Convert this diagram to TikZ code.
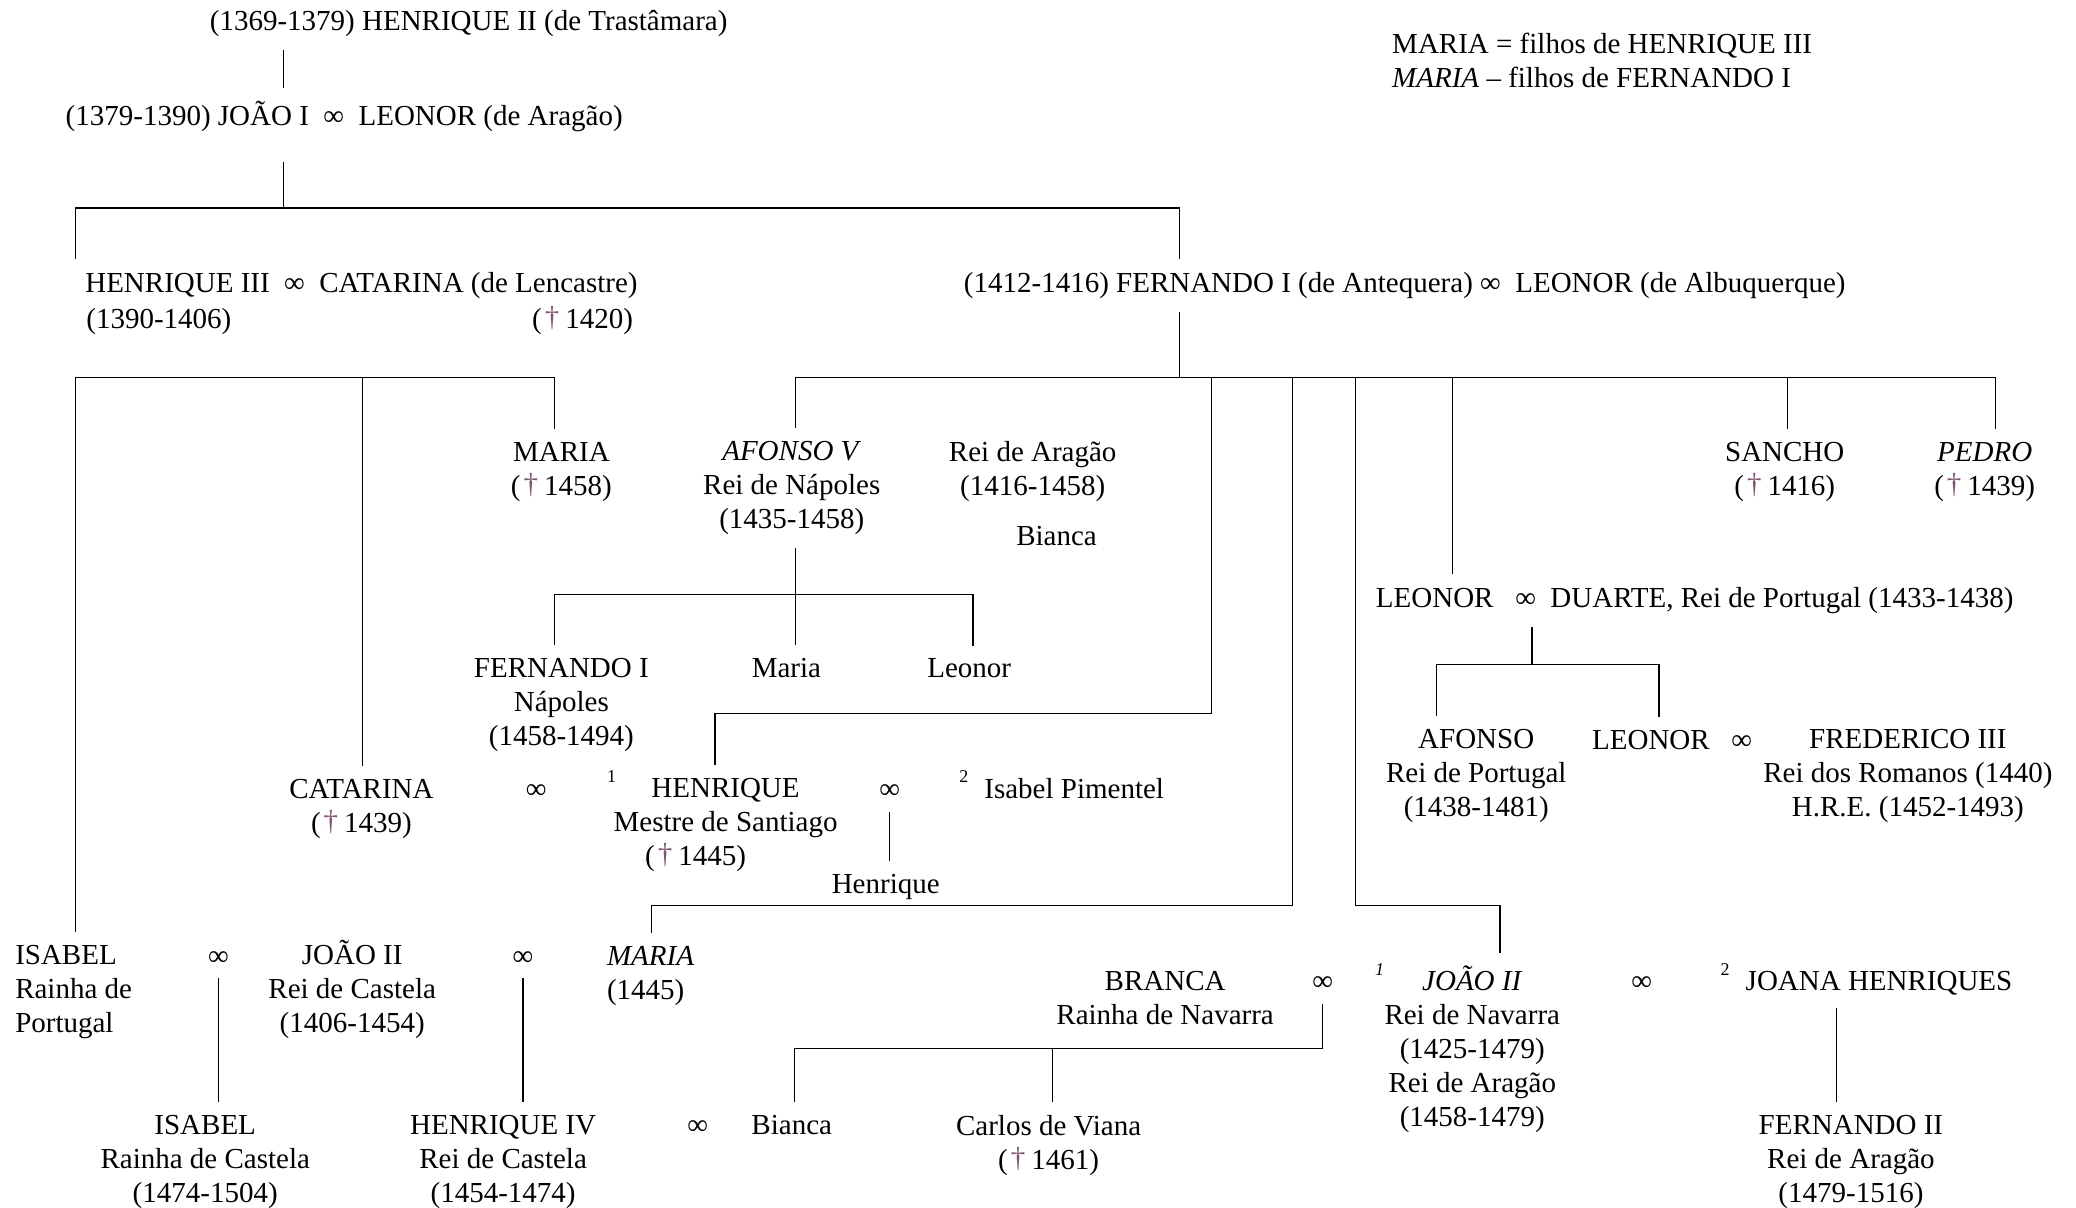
\documentclass[tikz,border=0pt]{standalone}
\usepackage{fontspec}
\setmainfont{Liberation Serif}
\usetikzlibrary{calc}
\newlength{\du}
\setlength{\du}{0.662pt}
\definecolor{obitcolor}{rgb}{0.50,0.33,0.45}
\newcommand{\obit}{\hspace{1.5pt}\textcolor{obitcolor}{\raisebox{1pt}{†}}\hspace{3pt}}

\begin{document}
\begin{tikzpicture}[x=\du,y=-\du,line width=0.7pt,
  every node/.style={inner sep=0pt,font=\fontsize{14.5}{17}\selectfont},
  pers/.style={anchor=base,align=center,outer ysep=10\du},
  persl/.style={anchor=base west,align=left,outer ysep=10\du},
  marr/.style={anchor=base,outer ysep=10\du},
  supnum/.style={anchor=base,font=\fontsize{9}{10}\selectfont}]
\useasboundingbox (0,0) rectangle (1568,912);

% ancestors (base = last line)
\node[pers] (henII) at (354,23) {(1369-1379) HENRIQUE II (de Trastâmara)};
\node[pers] (joaoI) at (260,95) {(1379-1390) JOÃO I ~∞~~LEONOR (de Aragão)};
\node[pers] (henIII) at (273,221) {HENRIQUE III ~∞~~CATARINA (de Lencastre)};
\node[pers] (henIIIyrs) at (120,248) {(1390-1406)};
\node[pers] (catL) at (440,248) {(\obit 1420)};
\node[pers] (ferI) at (1061,221) {(1412-1416) FERNANDO I (de Antequera) ∞~~LEONOR (de Albuquerque)};
\node[persl] (legend) at (1051,66) {MARIA = filhos de HENRIQUE III\\\textit{MARIA} – filhos de FERNANDO I};

% children
\node[pers] (mariaH) at (424,374) {MARIA\\(\obit 1458)};
\node[pers] (afonsoV) at (598,399) {\textit{AFONSO V}\\Rei de Nápoles\\(1435-1458)};
\node[pers] (aragao) at (780,374) {Rei de Aragão\\(1416-1458)};
\node[pers] (biancaA) at (798,412) {Bianca};
\node[pers] (sancho) at (1348,374) {SANCHO\\(\obit 1416)};
\node[pers] (pedro) at (1499,374) {\textit{PEDRO}\\(\obit 1439)};
\node[pers] (ferNap) at (424,563) {FERNANDO I\\Nápoles\\(1458-1494)};
\node[pers] (mariaN) at (594,512) {Maria};
\node[pers] (leonorN) at (732,512) {Leonor};
\node[pers] (leonorD) at (1280,459) {LEONOR ~~∞~~DUARTE, Rei de Portugal (1433-1438)};
\node[pers] (afonsoP) at (1115,617) {AFONSO\\Rei de Portugal\\(1438-1481)};
\node[persl] (leonorF) at (1202,566) {LEONOR ~~∞};
\node[pers] (frederico) at (1441,617) {FREDERICO III\\Rei dos Romanos (1440)\\H.R.E. (1452-1493)};
\node[pers] (catarina) at (273,629) {CATARINA\\(\obit 1439)};
\node[marr] (inf1) at (405,603) {∞};
\node[supnum] (sup1) at (462,591) {1};
\node[pers] (henriqueS) at (548,654) {HENRIQUE\\Mestre de Santiago\\(\obit 1445)\hspace*{30pt}};
\node[marr] (inf2) at (672,603) {∞};
\node[supnum] (sup2) at (728,591) {2};
\node[persl] (isabelP) at (743,603) {Isabel Pimentel};
\node[pers] (henriqueJr) at (669,675) {Henrique};

% grandchildren
\node[persl] (isabelR) at (11,780) {ISABEL\\Rainha de\\Portugal};
\node[marr] (inf3) at (165,729) {∞};
\node[pers] (joaoII) at (266,780) {JOÃO II\\Rei de Castela\\(1406-1454)};
\node[marr] (inf4) at (395,729) {∞};
\node[persl] (mariaC) at (458,755) {\textit{MARIA}\\(1445)};
\node[pers] (branca) at (880,774) {BRANCA\\Rainha de Navarra};
\node[marr] (inf5) at (999,748) {∞};
\node[supnum] (sup3) at (1042,737) {\textit{1}};
\node[pers] (joaoIIN) at (1112,851) {\textit{JOÃO II}\\Rei de Navarra\\(1425-1479)\\Rei de Aragão\\(1458-1479)};
\node[marr] (inf6) at (1240,748) {∞};
\node[supnum] (sup4) at (1303,737) {2};
\node[persl] (joana) at (1318,748) {JOANA HENRIQUES};
\node[pers] (isabelC) at (155,908) {ISABEL\\Rainha de Castela\\(1474-1504)};
\node[pers] (henIV) at (380,908) {HENRIQUE IV\\Rei de Castela\\(1454-1474)};
\node[marr] (inf7) at (527,857) {∞};
\node[pers] (biancaN) at (598,857) {Bianca};
\node[pers] (carlos) at (792,883) {Carlos de Viana\\(\obit 1461)};
\node[pers] (ferII) at (1398,908) {FERNANDO II\\Rei de Aragão\\(1479-1516)};

% junctions
\coordinate (t1) at (214,157);
\coordinate (tl) at (57,157);
\coordinate (tr) at (891,157);
\coordinate (hl) at (57,285);
\coordinate (hm) at (274,285);
\coordinate (hr) at (419,285);
\coordinate (f0) at (891,285);
\coordinate (fl) at (601,285);
\coordinate (fr) at (1507,285);
\coordinate (f1) at (915,285);
\coordinate (f2) at (976,285);
\coordinate (f3) at (1024,285);
\coordinate (f4) at (1097,285);
\coordinate (f5) at (1350,285);
\coordinate (k1) at (540,539);
\coordinate (k2) at (492,684);
\coordinate (k3) at (1133,684);
\coordinate (a0) at (601,449);
\coordinate (al) at (419,449);
\coordinate (ar) at (735,449);
\coordinate (d0) at (1157,502);
\coordinate (dl) at (1085,502);
\coordinate (dr) at (1253,502);
\coordinate (bl) at (600,792);
\coordinate (bm) at (795,792);
\coordinate (jx) at (1387,800);

% connectors
\draw (henII.south -| t1) -- (joaoI.north -| t1);
\draw ($(joaoI.south -| t1)+(0,13)$) -- (t1);
\draw (henIII.north -| tl) -- (tl) -- (tr) -- (ferI.north -| tr);
\draw (isabelR.north -| hl) -- (hl) -- (hr) -- (mariaH.north -| hr);
\draw (hm) -- (catarina.north -| hm);
\draw (ferI.south -| f0) -- (f0);
\draw (afonsoV.north -| fl) -- (fl) -- (fr) -- (pedro.north -| fr);
\draw (f1) |- (k1) -- (henriqueS.north -| k1);
\draw (f2) |- (k2) -- (mariaC.north -| k2);
\draw (f3) |- (k3) -- (joaoIIN.north -| k3);
\draw (f4) -- (leonorD.north -| f4);
\draw (f5) -- (sancho.north -| f5);
\draw (afonsoV.south -| a0) -- (a0) -- (mariaN.north -| a0);
\draw (ferNap.north -| al) -- (al) -- (ar) -- (leonorN.north -| ar);
\draw (inf2.south) -- (henriqueJr.north -| inf2.south);
\draw (leonorD.south -| d0) -- (d0);
\draw (afonsoP.north -| dl) -- (dl) -- (dr) -- (leonorF.north -| dr);
\draw (inf3.south) -- (isabelC.north -| inf3.south);
\draw (inf4.south) -- (henIV.north -| inf4.south);
\draw (inf5.south) |- (bl) -- (biancaN.north -| bl);
\draw (bm) -- (carlos.north -| bm);
\draw (joana.south -| jx) -- (ferII.north -| jx);
\end{tikzpicture}
\end{document}
